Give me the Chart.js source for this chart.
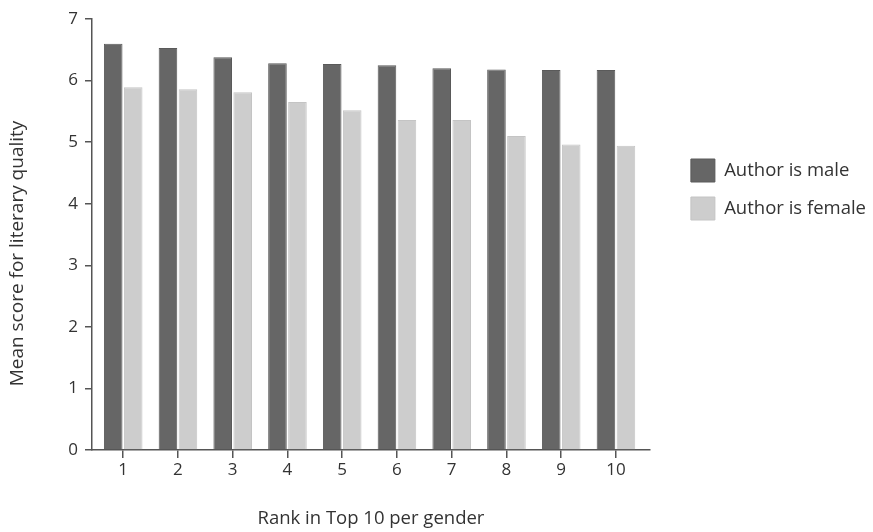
<!DOCTYPE html>
<html>
<head>
<meta charset="utf-8">
<script src="https://cdn.jsdelivr.net/npm/chart.js@4.4.1/dist/chart.umd.min.js"></script>
<style>
  html, body { margin: 0; padding: 0; background: #ffffff; }
  #wrap { width: 873px; height: 532px; position: relative; }
</style>
</head>
<body>
<div id="wrap"><canvas id="c" width="873" height="532"></canvas></div>
<script>
const RANKS = [1, 2, 3, 4, 5, 6, 7, 8, 9, 10];
const RANK_LABELS = ['1', '2', '3', '4', '5', '6', '7', '8', '9', '10'];
const MALE = [6.60, 6.53, 6.38, 6.28, 6.27, 6.25, 6.20, 6.18, 6.17, 6.17];
const FEMALE = [5.89, 5.86, 5.81, 5.65, 5.52, 5.36, 5.36, 5.10, 4.96, 4.94];
const SERIES_NAMES = ['Author is male', 'Author is female'];
const Y_TICKS = [0, 1, 2, 3, 4, 5, 6, 7];
const X_TITLE = 'Rank in Top 10 per gender';
const Y_TITLE = 'Mean score for literary quality';

const X_MIN = 0.43, X_MAX = 10.62;
const FONT = "'Open Sans', 'DejaVu Sans', sans-serif";
const TXT = '#333333';
const AX = '#555555';

const toPts = vals => RANKS.map((r, i) => ({ x: r, y: vals[i] }));

new Chart(document.getElementById('c'), {
  type: 'bar',
  data: {
    datasets: [
      { label: SERIES_NAMES[0], data: toPts(MALE), backgroundColor: '#666666', borderColor: '#5a5a5a', borderWidth: 1 },
      { label: SERIES_NAMES[1], data: toPts(FEMALE), backgroundColor: '#cdcdcd', borderColor: '#c4c4c4', borderWidth: 1 }
    ]
  },
  options: {
    responsive: false,
    animation: false,
    events: [],
    layout: { padding: { top: 19, right: -3, bottom: 0, left: 0 } },
    datasets: { bar: { categoryPercentage: 0.73, barPercentage: 0.93 } },
    scales: {
      x: {
        type: 'linear',
        min: X_MIN, max: X_MAX,
        offset: false,
        afterBuildTicks: s => { s.ticks = RANKS.map(v => ({ value: v })); },
        afterFit: s => { s.height = 82; },
        grid: { display: true, drawOnChartArea: false, drawTicks: true, tickLength: 8, color: AX, lineWidth: 1.5, offset: false },
        border: { display: true, color: AX, width: 1.5 },
        ticks: {
          autoSkip: false, maxRotation: 0, minRotation: 0, padding: 2,
          color: TXT, font: { family: FONT, size: 17 },
          callback: v => { const i = RANKS.indexOf(v); return i >= 0 ? RANK_LABELS[i] : ''; }
        },
        title: { display: true, text: X_TITLE, color: TXT, font: { family: FONT, size: 18.5 }, padding: { top: 0, bottom: 2 } }
      },
      y: {
        min: 0, max: 7,
        afterBuildTicks: s => { s.ticks = Y_TICKS.map(v => ({ value: v })); },
        afterFit: s => { s.width = 92; },
        grid: { display: true, drawOnChartArea: false, drawTicks: true, tickLength: 7, color: AX, lineWidth: 1.5 },
        border: { display: true, color: AX, width: 1.5 },
        ticks: { padding: 7, color: TXT, font: { family: FONT, size: 17 } },
        title: { display: true, text: Y_TITLE + '\u2003\u2003', color: TXT, font: { family: FONT, size: 19 }, padding: { top: 6, bottom: 0 } }
      },
      gap: {
        type: 'linear', position: 'right', display: true, min: 0, max: 1,
        afterFit: s => { s.width = 26; },
        grid: { display: false }, border: { display: false }, ticks: { display: false }
      }
    },
    plugins: {
      tooltip: { enabled: false },
      legend: {
        position: 'right',
        align: 'start',
        maxWidth: 240,
        title: { display: true, text: ' ', font: { size: 10, lineHeight: 1 }, padding: { top: 115, bottom: 0 } },
        labels: {
          boxWidth: 24, boxHeight: 23, padding: 15,
          color: TXT, font: { family: FONT, size: 18.5 }
        }
      }
    }
  }
});
</script>
</body>
</html>
